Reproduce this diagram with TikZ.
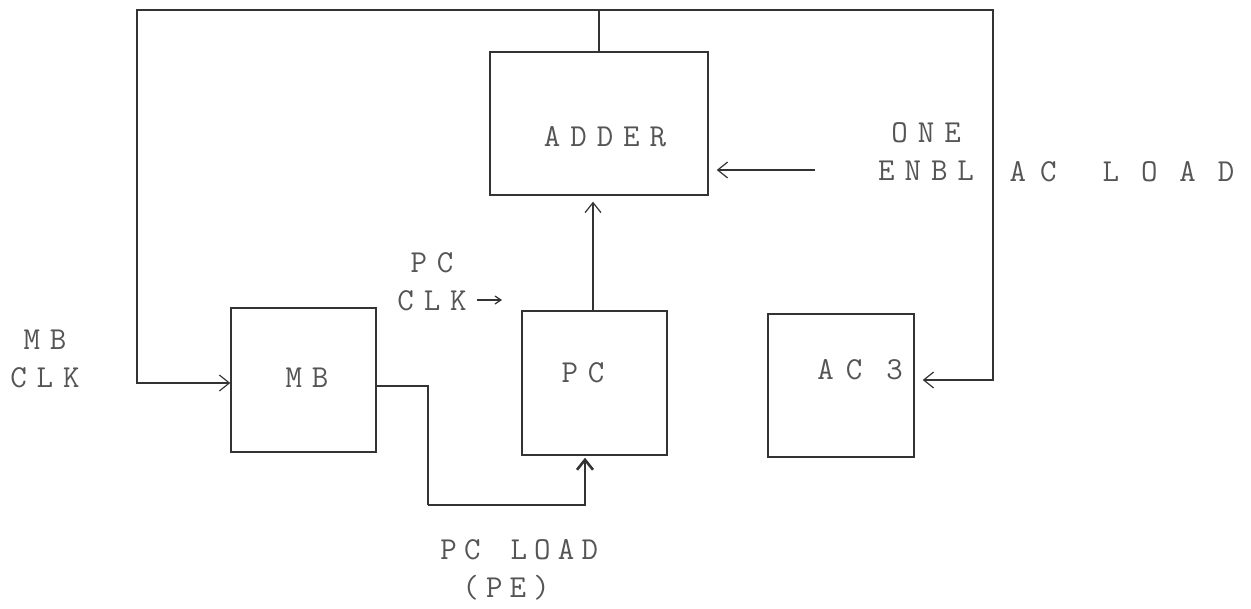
\documentclass[tikz,border=0pt]{standalone}
\usepackage{fontspec}
\usepackage{tikz}
\usetikzlibrary{positioning,arrows.meta,calc}
\definecolor{InkGray}{HTML}{333333}
\definecolor{TypeGray}{HTML}{555555}
\newcommand{\typewr}{\ttfamily\fontsize{16}{19}\selectfont}
% spread the letters of a word like a typewriter
\makeatletter
\newcommand{\spc}[2][5pt]{\def\spc@sep{\hspace{#1}}\@tfor\spc@t:=#2\do{\spc@t\spc@sep}\unskip}
\makeatother

\begin{document}
\begin{tikzpicture}[x=0.5pt,y=-0.5pt,
  every node/.style={text=TypeGray},
  blk/.style={draw=InkGray, line width=0.7pt, inner sep=0pt},
  txt/.style={font=\typewr, align=center, inner sep=1pt},
  wire/.style={draw=InkGray, line width=0.6pt},
  ar/.style={wire, -{Straight Barb[length=5pt,width=8pt]}},
  sar/.style={wire, -{Straight Barb[length=3pt,width=4pt]}},
]
  \useasboundingbox (0,0) rectangle (1251,609);

  % blocks
  \node[blk, minimum width=109pt, minimum height=71.5pt] (adder) at (599,123.5) {};
  \node[blk, minimum width=72.5pt, minimum height=72pt] (mb) at (303.5,380) {};
  \node[blk, minimum width=72.5pt, minimum height=72pt] (pc) at (594.5,383) {};
  \node[blk, minimum width=73pt, minimum height=71.5pt] (ac) at (841,385.5) {};

  % block names
  \node[txt] (addertxt) at (605,137) {\spc{ADDER}};
  \node[txt] (mbtxt) at (307,378) {\spc{MB}};
  \node[txt] (pctxt) at (583,373) {\spc{PC}};
  \node[txt] (actxt) at (860,370) {\spc[6pt]{AC}\hspace{12pt}3};

  % signal names
  \node[txt] (mbclk) at (45,359) {\spc{MB}\\\spc{CLK}};
  \node[txt] (pcclk) at (432,282) {\spc{PC}\\\spc{CLK}};
  \node[txt] (oneenbl) at (926,152) {\spc{ONE}\\\spc{ENBL}};
  \node[txt] (acload) at (1122,172) {\spc[7pt]{AC}\hspace{23pt}\spc[11pt]{LOAD}};
  \node[txt, align=left, anchor=west] (pcload) at (438,570)
    {\spc[3.6pt]{PC}\hspace{15pt}\spc[3.6pt]{LOAD}\\\hspace*{11pt}\spc[3.6pt]{(PE)}};

  % adder output bus
  \coordinate (busL) at (137,10);
  \coordinate (busR) at (993,10);
  \draw[wire] (adder.north) -- (adder.north |- busL);
  \draw[ar] (adder.north |- busL) -- (busL) |- ([yshift=-1.5pt]mb.west);
  \draw[ar, shorten >=4pt] (adder.north |- busR) -- (busR) |- ([yshift=2.75pt]ac.east);

  % PC into adder
  \draw[ar, shorten >=3pt] ([xshift=-0.75pt]pc.north) -- ([xshift=-0.75pt]pc.north |- adder.south);

  % ONE ENBL
  \coordinate (enblsrc) at (815,170);
  \draw[ar, shorten >=4pt] (enblsrc) -- (adder.east |- enblsrc);

  % PC CLK
  \coordinate (clksrc) at (477,300);
  \draw[sar] (clksrc) -- ++(25,0);

  % MB into PC (load)
  \coordinate (ldB) at (428,505);
  \draw[wire] ([yshift=-3pt]mb.east) -| (ldB);
  \draw[ar, line width=1.3pt, shorten >=1pt] (ldB) -| ([xshift=-4.75pt]pc.south);
\end{tikzpicture}
\end{document}
